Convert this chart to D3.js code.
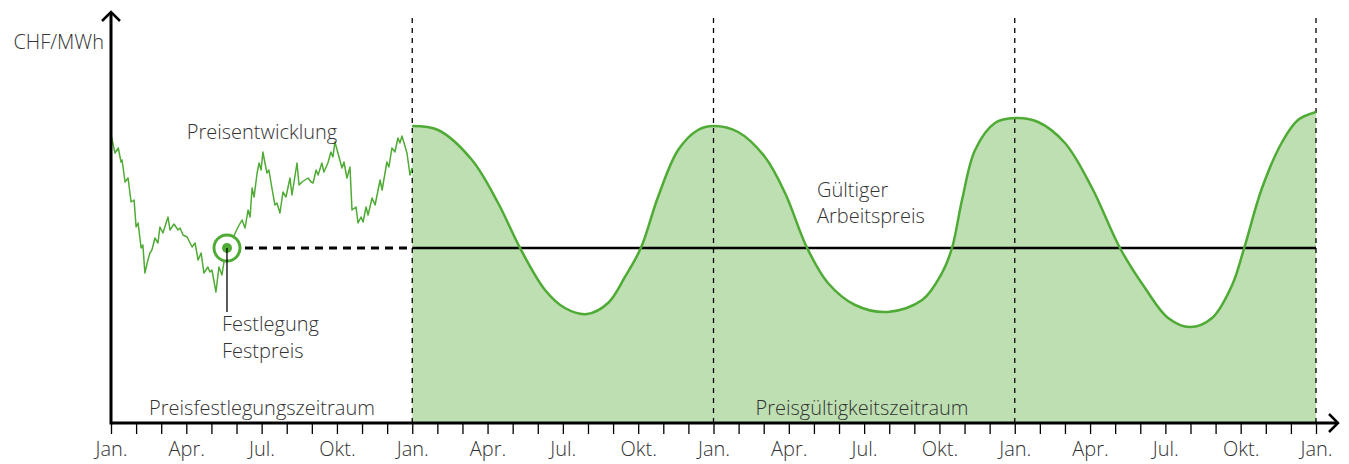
<!DOCTYPE html>
<html>
<head>
<meta charset="utf-8">
<script src="https://cdnjs.cloudflare.com/ajax/libs/d3/7.8.5/d3.min.js"></script>
<style>
  body { margin: 0; background: #fff; }
  text { font-family: "Open Sans", sans-serif; font-weight: 300; fill: #333; }
</style>
</head>
<body>
<div id="chart"></div>
<script>
// months counted from the first Jan. (0) to the last Jan. (48)
const monthLabels = ["Jan.", "Apr.", "Jul.", "Okt."];
const yearStarts = [12, 24, 36, 48];

// price history during the fixing period [month, CHF/MWh]
const priceHistory = [
  [0, 72], [0.16, 67.5], [0.29, 68.75], [0.4, 65.25], [0.44, 65.75], [0.56, 60.25],
  [0.68, 61.25], [0.8, 55.25], [0.92, 55.75], [1, 49], [1.08, 50], [1.2, 43.75],
  [1.27, 44.5], [1.35, 37.5], [1.47, 40.75], [1.55, 42.5], [1.63, 43.25], [1.75, 46.25],
  [1.87, 45], [1.95, 49], [2.07, 47.5], [2.27, 51.5], [2.35, 48.25], [2.51, 49.75],
  [2.67, 48.25], [2.75, 48.75], [2.87, 47], [3.03, 46.5], [3.23, 44], [3.35, 45],
  [3.47, 40.75], [3.59, 42.5], [3.7, 37.5], [3.86, 39], [3.94, 37.75], [4.02, 38.25],
  [4.18, 32.75], [4.3, 39], [4.42, 37], [4.5, 40.25], [4.62, 43.75], [4.82, 45.75],
  [5.06, 49], [5.22, 50.75], [5.34, 48.75], [5.46, 53.25], [5.54, 51.5], [5.62, 58.75],
  [5.7, 56.5], [5.82, 62.5], [5.9, 65], [5.98, 63.25], [6.05, 67.75], [6.21, 62.5],
  [6.29, 63.25], [6.41, 58.75], [6.53, 54.5], [6.61, 55], [6.73, 52.5], [6.85, 57.75],
  [6.97, 56.5], [7.13, 61.25], [7.21, 57], [7.41, 65], [7.49, 59.5], [7.61, 60.25],
  [7.73, 60.75], [7.85, 61.25], [7.97, 60.25], [8.05, 60], [8.17, 63.25], [8.25, 62],
  [8.4, 65], [8.48, 62.75], [8.64, 65], [8.76, 67.75], [8.84, 66.5], [8.92, 70.25],
  [9.04, 67.5], [9.2, 63.75], [9.28, 65.25], [9.4, 61.25], [9.52, 64], [9.6, 53.25],
  [9.76, 54], [9.84, 50], [9.96, 51.5], [10.04, 50.25], [10.16, 54], [10.24, 52],
  [10.4, 56.25], [10.52, 54.5], [10.72, 60.75], [10.8, 58.25], [10.99, 65.25], [11.07, 64],
  [11.19, 68.75], [11.31, 67.75], [11.43, 71.25], [11.51, 70], [11.59, 71.75], [11.79, 67.5],
  [11.91, 62], [12, 63.75]
];

// market price during the validity period
const marketPrice = [
  [12, 74.25], [13.03, 73.25], [14.38, 65.75], [15.42, 55], [16.29, 43.8], [17.29, 33.25],
  [18.08, 28.75], [18.96, 27.25], [19.8, 30], [20.47, 36.5], [21.11, 43.8], [21.79, 56.5],
  [22.59, 68.25], [23.38, 73.25], [24, 74.25], [24.98, 72.75], [26.05, 66.5], [26.85, 57.5],
  [27.73, 43.75], [28.56, 35], [29.64, 29.5], [30.95, 27.75], [32.31, 30.75], [33.1, 37.5],
  [33.5, 43.75], [33.9, 55.75], [34.42, 68.25], [35.21, 75], [36.01, 76.25], [36.93, 75.25],
  [38, 70], [39.08, 58.75], [40.19, 43.75], [41.19, 33.75], [42.11, 26.25], [42.98, 24],
  [43.86, 26.25], [44.66, 34.5], [45.14, 43.75], [45.85, 58.75], [46.65, 70.25], [47.28, 75.75],
  [48, 77.75]
];

const fixMonth = 4.62;
const fixedPrice = 43.75;

const width = 1349, height = 464;
const x = d3.scaleLinear().domain([0, 48]).range([111, 1316]);
const y = d3.scaleLinear().domain([0, 100]).range([423, 23]);

const green = "#4fab35";
const lightGreen = "#bddfb1";
const smooth = d3.curveCatmullRom.alpha(0.5);

const svg = d3.select("#chart").append("svg")
  .attr("width", width)
  .attr("height", height);

// validity area
const area = d3.area()
  .x(d => x(d[0]))
  .y0(y(0))
  .y1(d => y(d[1]))
  .curve(smooth);

svg.append("path")
  .attr("fill", lightGreen)
  .attr("d", area(marketPrice));

// year separators
svg.selectAll(".year").data(yearStarts)
  .enter().append("line")
    .attr("x1", d => x(d)).attr("x2", d => x(d))
    .attr("y1", 18).attr("y2", y(0))
    .attr("stroke", "#000")
    .attr("stroke-width", 1.3)
    .attr("stroke-dasharray", "5,5");

// fixed price
svg.append("line")
  .attr("x1", x(fixMonth) + 18).attr("x2", x(12))
  .attr("y1", y(fixedPrice)).attr("y2", y(fixedPrice))
  .attr("stroke", "#000")
  .attr("stroke-width", 3)
  .attr("stroke-dasharray", "8,6");

svg.append("line")
  .attr("x1", x(12)).attr("x2", x(48))
  .attr("y1", y(fixedPrice)).attr("y2", y(fixedPrice))
  .attr("stroke", "#000")
  .attr("stroke-width", 2.5);

// market price curve
svg.append("path")
  .attr("fill", "none")
  .attr("stroke", green)
  .attr("stroke-width", 2.5)
  .attr("d", d3.line().x(d => x(d[0])).y(d => y(d[1])).curve(smooth)(marketPrice));

svg.append("path")
  .attr("fill", "none")
  .attr("stroke", green)
  .attr("stroke-width", 1.5)
  .attr("stroke-linejoin", "round")
  .attr("d", d3.line().x(d => x(d[0])).y(d => y(d[1]))(priceHistory));

// fixing marker
svg.append("circle")
  .attr("cx", x(fixMonth)).attr("cy", y(fixedPrice))
  .attr("r", 13)
  .attr("fill", "#fff")
  .attr("stroke", green)
  .attr("stroke-width", 3);

svg.append("circle")
  .attr("cx", x(fixMonth)).attr("cy", y(fixedPrice))
  .attr("r", 5)
  .attr("fill", green);

svg.append("line")
  .attr("x1", x(fixMonth)).attr("x2", x(fixMonth))
  .attr("y1", y(fixedPrice)).attr("y2", 312)
  .attr("stroke", "#000")
  .attr("stroke-width", 1.3);

// axes
const xAxis = d3.axisBottom(x)
  .tickValues(d3.range(0, 49))
  .tickSize(11)
  .tickPadding(8)
  .tickFormat(m => m % 3 === 0 ? monthLabels[(m / 3) % 4] : "");

const xAxisG = svg.append("g")
  .attr("transform", `translate(0, ${y(0)})`)
  .call(xAxis);
xAxisG.select(".domain").remove();
xAxisG.selectAll(".tick line").attr("stroke", "#000").attr("stroke-width", 1.3);
xAxisG.selectAll(".tick text")
  .attr("fill", "#333")
  .style("font-family", "'Open Sans', sans-serif")
  .style("font-weight", 300)
  .style("font-size", "20px");

svg.append("line")
  .attr("x1", x(0)).attr("x2", 1337)
  .attr("y1", y(0)).attr("y2", y(0))
  .attr("stroke", "#000").attr("stroke-width", 3);
svg.append("path")
  .attr("d", `M1329,${y(0) - 9}L1338,${y(0)}L1329,${y(0) + 9}`)
  .attr("fill", "none").attr("stroke", "#000").attr("stroke-width", 2.5);

svg.append("line")
  .attr("x1", x(0)).attr("x2", x(0))
  .attr("y1", 13).attr("y2", y(0) + 1.5)
  .attr("stroke", "#000").attr("stroke-width", 3);
svg.append("path")
  .attr("d", `M${x(0) - 9},21L${x(0)},12L${x(0) + 9},21`)
  .attr("fill", "none").attr("stroke", "#000").attr("stroke-width", 2.5);

// labels
const label = (t, px, py, anchor) => svg.append("text")
  .attr("x", px).attr("y", py)
  .attr("text-anchor", anchor || "start")
  .style("font-size", "20px")
  .text(t);

label("CHF/MWh", 104, 49, "end");
label("Preisentwicklung", 262, 139, "middle");
label("Festlegung", 222, 331);
label("Festpreis", 222, 358);
label("Gültiger", 817, 197);
label("Arbeitspreis", 817, 223);
label("Preisfestlegungszeitraum", 262, 415, "middle");
label("Preisgültigkeitszeitraum", 862, 415, "middle");
</script>
</body>
</html>
